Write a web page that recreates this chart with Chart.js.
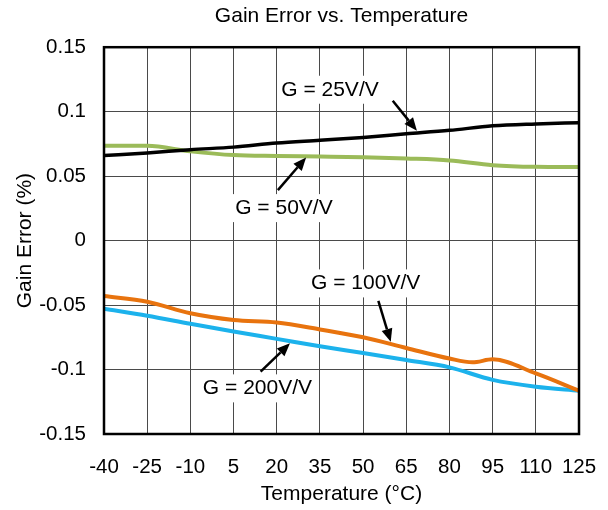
<!DOCTYPE html>
<html>
<head>
<meta charset="utf-8">
<script src="https://cdn.jsdelivr.net/npm/chart.js@4/dist/chart.umd.min.js"></script>
<style>
  html, body { margin: 0; padding: 0; background: #fff; }
  #wrap { width: 608px; height: 510px; }
</style>
</head>
<body>
<div id="wrap"><canvas id="gainChart" width="608" height="510"></canvas></div>
<script>
// Gain error vs temperature, one curve per gain setting

const temps = [-40, -25, -10, 5, 20, 35, 50, 65, 80, 95, 110, 125];
const temps100 = [-40, -25, -10, 5, 20, 35, 50, 65, 80, 88, 95, 110, 125];

const g25 = [0.066, 0.068, 0.0705, 0.0725, 0.0757, 0.0778, 0.0800, 0.0828, 0.0855, 0.0890, 0.0905, 0.0915];
const g50 = [0.0735, 0.0735, 0.0692, 0.0663, 0.0656, 0.0652, 0.0647, 0.0637, 0.0622, 0.0585, 0.0572, 0.0570];
const g100 = [-0.043, -0.0474, -0.0564, -0.0616, -0.0635, -0.0689, -0.0750, -0.0833, -0.0915, -0.0944, -0.0921, -0.1030, -0.1164];
const g200 = [-0.0528, -0.0583, -0.0645, -0.0705, -0.0762, -0.0820, -0.0872, -0.0926, -0.0983, -0.1080, -0.1133, -0.1164];

const xTickLabels = ['-40', '-25', '-10', '5', '20', '35', '50', '65', '80', '95', '110', '125'];
const yTickLabels = ['-0.15', '-0.1', '-0.05', '0', '0.05', '0.1', '0.15'];

// callout labels: text, text anchor (temp, value), arrow start and arrow tip
const callouts = [
    { text: 'G = 25V/V', at: [38.5, 0.1170], from: [60.3, 0.1084], to: [68.7, 0.0852] },
    { text: 'G = 50V/V', at: [22.5, 0.0252], from: [20.4, 0.0391], to: [30.2, 0.0645] },
    { text: 'G = 100V/V', at: [50.9, -0.0332], from: [55.3, -0.0467], to: [59.6, -0.0785] },
    { text: 'G = 200V/V', at: [13.3, -0.1146], from: [14.4, -0.1017], to: [24.6, -0.0797] }
];

const FONT = "'Liberation Sans', Arial, sans-serif";

function pts(xs, ys) {
    return xs.map((x, i) => ({ x: x, y: ys[i] }));
}

function series(label, xs, ys, color, width) {
    return {
        label: label,
        data: pts(xs, ys),
        borderColor: color,
        borderWidth: width,
        pointRadius: 0,
        fill: false,
        cubicInterpolationMode: 'monotone'
    };
}

const calloutPlugin = {
    id: 'callouts',
    afterDatasetsDraw(chart) {
        const c = chart.ctx;
        const xs = chart.scales.x, ys = chart.scales.y;
        const area = chart.chartArea;

        c.save();
        c.font = '21px ' + FONT;
        c.textAlign = 'center';
        c.textBaseline = 'middle';
        callouts.forEach(co => {
            const px = xs.getPixelForValue(co.at[0]);
            const py = ys.getPixelForValue(co.at[1]);
            const w = c.measureText(co.text).width;
            c.fillStyle = '#fff';
            c.fillRect(px - w / 2 - 4, py - 14, w + 8, 28);
            c.fillStyle = '#000';
            c.fillText(co.text, px, py);

            // arrow
            const x1 = xs.getPixelForValue(co.from[0]), y1 = ys.getPixelForValue(co.from[1]);
            const x2 = xs.getPixelForValue(co.to[0]), y2 = ys.getPixelForValue(co.to[1]);
            const ang = Math.atan2(y2 - y1, x2 - x1);
            const len = 13, half = 5.5;
            const bx = x2 - len * Math.cos(ang), by = y2 - len * Math.sin(ang);
            c.strokeStyle = '#000';
            c.lineWidth = 2.5;
            c.beginPath();
            c.moveTo(x1, y1);
            c.lineTo(bx, by);
            c.stroke();
            c.beginPath();
            c.moveTo(x2, y2);
            c.lineTo(bx + half * Math.sin(ang), by - half * Math.cos(ang));
            c.lineTo(bx - half * Math.sin(ang), by + half * Math.cos(ang));
            c.closePath();
            c.fillStyle = '#000';
            c.fill();
        });

        // plot frame
        c.strokeStyle = '#000';
        c.lineWidth = 2.5;
        c.strokeRect(area.left, area.top, area.right - area.left, area.bottom - area.top);
        c.restore();
    }
};

const ctx = document.getElementById('gainChart').getContext('2d');

new Chart(ctx, {
    type: 'line',
    data: {
        datasets: [
            series('G = 25V/V', temps, g25, '#000000', 3.5),
            series('G = 50V/V', temps, g50, '#9BBB59', 4),
            series('G = 100V/V', temps100, g100, '#E8730E', 4),
            series('G = 200V/V', temps, g200, '#1CB2EC', 4)
        ]
    },
    options: {
        responsive: false,
        animation: false,
        layout: { padding: { left: 0, right: 29, top: 0, bottom: 0 } },
        plugins: {
            legend: { display: false },
            tooltip: { enabled: false },
            title: {
                display: true,
                text: 'Gain Error vs. Temperature',
                color: '#000',
                fullSize: false,
                font: { family: FONT, size: 21, weight: 'normal' },
                padding: { top: 4, bottom: 18 }
            }
        },
        scales: {
            x: {
                type: 'linear',
                min: -40,
                max: 125,
                afterFit(scale) {
                    scale.height = 76;
                    scale.paddingLeft = 0;
                    scale.paddingRight = 0;
                },
                afterBuildTicks(scale) {
                    scale.ticks = temps.map(t => ({ value: t }));
                },
                ticks: {
                    color: '#000',
                    padding: 21,
                    maxRotation: 0,
                    autoSkip: false,
                    font: { family: FONT, size: 20.5 },
                    callback: (v, i) => xTickLabels[i]
                },
                grid: { color: '#4a4a4a', lineWidth: 1, drawTicks: false },
                border: { display: false },
                title: {
                    display: true,
                    text: 'Temperature (°C)',
                    color: '#000',
                    font: { family: FONT, size: 21 },
                    padding: { top: 0, bottom: 3 }
                }
            },
            y: {
                min: -0.15,
                max: 0.15,
                afterFit(scale) { scale.width = 104; },
                ticks: {
                    stepSize: 0.05,
                    color: '#000',
                    padding: 18,
                    font: { family: FONT, size: 20.5 },
                    callback: (v, i) => yTickLabels[i]
                },
                grid: { color: '#4a4a4a', lineWidth: 1, drawTicks: false },
                border: { display: false },
                title: {
                    display: true,
                    text: 'Gain Error (%)',
                    color: '#000',
                    font: { family: FONT, size: 21 },
                    padding: { top: 13, bottom: 0 }
                }
            }
        }
    },
    plugins: [calloutPlugin]
});
</script>
</body>
</html>
